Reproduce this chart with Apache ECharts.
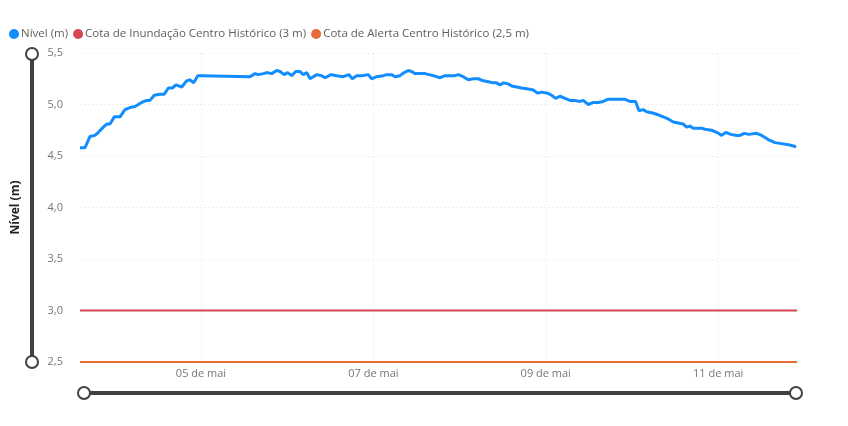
<!DOCTYPE html>
<html>
<head>
<meta charset="utf-8">
<script src="https://cdn.jsdelivr.net/npm/echarts@6/dist/echarts.min.js"></script>
<style>
  html, body { margin: 0; padding: 0; background: #fff; }
  #chart { width: 848px; height: 426px; }
</style>
</head>
<body>
<div id="chart"></div>
<script>
// Nível do rio (m) por hora, dias de maio em fração de dia
const dias = [
    3.596, 3.654, 3.712, 3.770, 3.809, 3.867, 3.906, 3.944, 3.994, 4.060,
    4.118, 4.176, 4.234, 4.312, 4.370, 4.408, 4.458, 4.524, 4.574, 4.621,
    4.667, 4.710, 4.776, 4.834, 4.872, 4.915, 4.962, 5.008, 5.568, 5.588,
    5.626, 5.665, 5.723, 5.762, 5.820, 5.878, 5.917, 5.966, 6.006, 6.052,
    6.099, 6.149, 6.187, 6.226, 6.265, 6.342, 6.400, 6.439, 6.508, 6.574,
    6.651, 6.717, 6.755, 6.806, 6.864, 6.941, 6.980, 7.038, 7.115, 7.154,
    7.212, 7.251, 7.309, 7.358, 7.405, 7.444, 7.483, 7.541, 7.599, 7.695,
    7.773, 7.831, 7.947, 7.985, 8.043, 8.101, 8.159, 8.217, 8.275, 8.333,
    8.391, 8.430, 8.469, 8.507, 8.565, 8.604, 8.662, 8.720, 8.797, 8.855,
    8.906, 8.952, 9.022, 9.068, 9.115, 9.165, 9.223, 9.281, 9.331, 9.397,
    9.435, 9.493, 9.551, 9.609, 9.667, 9.718, 9.919, 9.977, 10.043, 10.081,
    10.131, 10.170, 10.228, 10.267, 10.305, 10.363, 10.421, 10.479, 10.537, 10.595,
    10.634, 10.673, 10.711, 10.809, 10.847, 10.925, 10.983, 11.041, 11.087, 11.149,
    11.215, 11.253, 11.303, 11.357, 11.447, 11.505, 11.581, 11.659, 11.737, 11.813,
    11.905
];
const nivel = [
    4.58, 4.58, 4.69, 4.70, 4.73, 4.78, 4.81, 4.81, 4.88, 4.88,
    4.95, 4.97, 4.98, 5.02, 5.04, 5.04, 5.09, 5.10, 5.10, 5.16,
    5.16, 5.19, 5.17, 5.23, 5.24, 5.21, 5.28, 5.28, 5.27, 5.26,
    5.30, 5.29, 5.30, 5.31, 5.30, 5.33, 5.32, 5.29, 5.31, 5.28,
    5.32, 5.32, 5.29, 5.31, 5.25, 5.29, 5.28, 5.26, 5.29, 5.28,
    5.27, 5.29, 5.25, 5.28, 5.28, 5.29, 5.25, 5.27, 5.28, 5.29,
    5.29, 5.27, 5.28, 5.31, 5.33, 5.32, 5.30, 5.30, 5.30, 5.28,
    5.26, 5.28, 5.28, 5.29, 5.27, 5.24, 5.25, 5.25, 5.23, 5.22,
    5.21, 5.21, 5.19, 5.21, 5.20, 5.18, 5.17, 5.16, 5.15, 5.14,
    5.11, 5.12, 5.11, 5.09, 5.06, 5.08, 5.06, 5.04, 5.04, 5.03,
    5.04, 5.00, 5.02, 5.02, 5.03, 5.05, 5.05, 5.03, 5.03, 4.94,
    4.95, 4.93, 4.92, 4.91, 4.90, 4.88, 4.86, 4.83, 4.82, 4.81,
    4.78, 4.79, 4.77, 4.77, 4.76, 4.75, 4.73, 4.70, 4.73, 4.71,
    4.70, 4.70, 4.72, 4.71, 4.72, 4.70, 4.66, 4.63, 4.62, 4.61,
    4.59
];

// período exibido e marcas do eixo (dia de maio)
const periodo = [3.596, 11.915];
const diasMarcados = [5, 7, 9, 11];

const cotaInundacao = 3;
const cotaAlerta = 2.5;

const nomes = ['Nível (m)', 'Cota de Inundação Centro Histórico (3 m)', 'Cota de Alerta Centro Histórico (2,5 m)'];
const cores = ['#118DFF', '#D64550', '#E66C37'];

const fonte = "'Segoe UI', 'Open Sans', 'Noto Sans', sans-serif";

const chart = echarts.init(document.getElementById('chart'));

const nivelSerie = dias.map((d, i) => [d, nivel[i]]);
const linhaCota = v => periodo.map(d => [d, v]);

// estilo comum dos controles de zoom
const zoomBase = {
    type: 'slider',
    filterMode: 'none',
    start: 0,
    end: 100,
    showDetail: false,
    showDataShadow: false,
    brushSelect: false,
    backgroundColor: 'transparent',
    borderColor: 'transparent',
    fillerColor: '#404040',
    handleIcon: 'circle',
    handleSize: '300%',
    handleStyle: { color: '#fff', borderColor: '#404040', borderWidth: 2 },
    moveHandleSize: 0,
    moveHandleStyle: { opacity: 0 },
    emphasis: { handleStyle: { color: '#fff', borderColor: '#404040', borderWidth: 2 } }
};

const option = {
    backgroundColor: '#fff',
    animation: false,
    textStyle: { fontFamily: fonte },
    legend: {
        left: 4,
        top: 23,
        icon: 'circle',
        itemWidth: 10,
        itemHeight: 10,
        itemGap: 5,
        textStyle: { color: '#605E5C', fontSize: 11.5, fontFamily: fonte, padding: [0, 0, 0, -3] },
        data: nomes
    },
    grid: {
        left: 80,
        right: 51,
        top: 53,
        bottom: 64,
        containLabel: false
    },
    xAxis: {
        type: 'value',
        min: periodo[0],
        max: periodo[1],
        axisLine: { show: false },
        axisTick: { show: false, customValues: diasMarcados },
        axisLabel: {
            customValues: diasMarcados,
            color: '#777',
            fontSize: 11,
            fontFamily: fonte,
            margin: 6,
            formatter: v => String(Math.round(v)).padStart(2, '0') + ' de mai'
        },
        splitLine: {
            show: true,
            lineStyle: { color: '#E1E1E1', type: [1, 3], width: 1 }
        }
    },
    yAxis: {
        type: 'value',
        min: 2.5,
        max: 5.5,
        interval: 0.5,
        name: 'Nível (m)',
        nameLocation: 'middle',
        nameGap: 58,
        nameRotate: 90,
        nameTextStyle: { color: '#252423', fontSize: 12, fontWeight: 'bold', fontFamily: fonte },
        axisLine: { show: false },
        axisTick: { show: false },
        axisLabel: {
            color: '#777',
            fontSize: 11,
            fontFamily: fonte,
            margin: 17,
            formatter: v => v.toFixed(1).replace('.', ',')
        },
        splitLine: {
            lineStyle: { color: '#E1E1E1', type: [1, 3], width: 1 }
        }
    },
    dataZoom: [
        Object.assign({}, zoomBase, {
            xAxisIndex: 0,
            left: 81,
            right: 53,
            bottom: 31,
            height: 4
        }),
        Object.assign({}, zoomBase, {
            yAxisIndex: 0,
            orient: 'vertical',
            left: 29,
            top: 53,
            bottom: 63,
            width: 4
        })
    ],
    series: [
        {
            name: nomes[0],
            type: 'line',
            data: nivelSerie,
            showSymbol: false,
            color: cores[0],
            lineStyle: { color: cores[0], width: 3 }
        },
        {
            name: nomes[1],
            type: 'line',
            data: linhaCota(cotaInundacao),
            showSymbol: false,
            color: cores[1],
            lineStyle: { color: cores[1], width: 2 }
        },
        {
            name: nomes[2],
            type: 'line',
            data: linhaCota(cotaAlerta),
            showSymbol: false,
            color: cores[2],
            lineStyle: { color: cores[2], width: 2 }
        }
    ]
};

chart.setOption(option);
</script>
</body>
</html>
